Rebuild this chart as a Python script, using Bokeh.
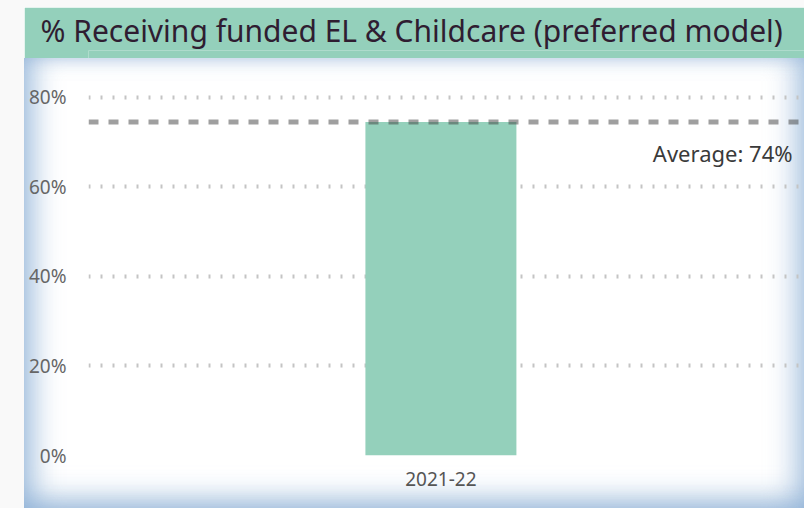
from bokeh.plotting import figure
from bokeh.models import Range1d, FixedTicker, NumeralTickFormatter, Span, Spacer, ColumnDataSource, Title
from bokeh.layouts import row, column
from bokeh.core.properties import value
from bokeh.embed import file_html
from bokeh.resources import INLINE

# ---- data ----
title_text = "% Receiving funded EL & Childcare (preferred model)"
categories = ["2021-22"]
values = [0.745]
y_ticks = [0.0, 0.2, 0.4, 0.6, 0.8]
average = sum(values) / len(values)
avg_label = "Average: {:.0f}%".format(average * 100)

FONT = "Noto Sans"
BAR = "#94D0BB"
PAGE = "#f9f9f9"

# ---- title bar ----
t = figure(width=780, height=51, x_range=Range1d(0, 1), y_range=Range1d(0, 1),
           x_axis_type=None, y_axis_type=None, toolbar_location=None,
           output_backend="svg", min_border=0)
t.outline_line_color = None
t.background_fill_color = BAR
t.border_fill_color = BAR
t.grid.visible = False
t.title = Title(text=title_text, align="left", offset=-48, text_font=FONT,
                text_font_size="30px", text_font_style="normal",
                text_color="#2f1d31", standoff=0)

# ---- main chart ----
xs = list(range(len(categories)))
src = ColumnDataSource(dict(x=xs, top=values, cat=categories))
x_start, x_end = -2.334, 2.408
shadow = ("inset 20px 0 28px -10px rgba(135,172,212,0.7), "
          "inset -20px 0 28px -10px rgba(135,172,212,0.6), "
          "inset 0 -20px 28px -10px rgba(135,172,212,0.65), "
          "inset 0 8px 14px -8px rgba(135,172,212,0.3)")
p = figure(width=780, height=450, x_range=Range1d(x_start, x_end),
           y_range=Range1d(0, 0.887), toolbar_location=None, output_backend="svg",
           min_border_left=64, min_border_right=0, min_border_top=0, min_border_bottom=53,
           styles={"background-color": "white", "box-shadow": shadow})
p.border_fill_color = None
p.background_fill_color = None
p.outline_line_color = None

p.vbar(x="x", top="top", width=1.0, bottom=0, source=src, color=BAR, line_color=None)

avg = Span(location=average, dimension="width", line_color="#404040", line_alpha=0.5,
           line_width=5, line_dash="10 10")
p.add_layout(avg)
p.text(x=[x_end], y=[average], text=[avg_label], x_offset=-12, y_offset=31,
       text_align="right", text_baseline="middle", text_font=value(FONT),
       text_font_size="22px", text_color="#3a3a3a")

p.xgrid.visible = False
p.ygrid.ticker = FixedTicker(ticks=y_ticks)
p.ygrid.grid_line_color = "#c4c4c4"
p.ygrid.grid_line_width = 4
p.ygrid.grid_line_dash = "2 10"

p.yaxis.ticker = FixedTicker(ticks=y_ticks)
p.yaxis.formatter = NumeralTickFormatter(format="0%")
p.yaxis.axis_line_color = None
p.yaxis.major_tick_line_color = None
p.yaxis.minor_tick_line_color = None
p.yaxis.major_label_standoff = 16
p.yaxis.major_label_text_font = FONT
p.yaxis.major_label_text_font_size = "19px"
p.yaxis.major_label_text_color = "#666666"

p.xaxis.ticker = FixedTicker(ticks=xs)
p.xaxis.major_label_overrides = {x: c for x, c in zip(xs, categories)}
p.xaxis.axis_line_color = None
p.xaxis.major_tick_line_color = None
p.xaxis.minor_tick_line_color = None
p.xaxis.major_label_standoff = 10
p.xaxis.major_label_text_font = FONT
p.xaxis.major_label_text_font_size = "19px"
p.xaxis.major_label_text_color = "#555555"

left = Spacer(width=24, height=508, styles={"background-color": PAGE})
top = Spacer(width=780, height=7, styles={"background-color": PAGE})
layout = row(left, column(top, t, p, spacing=0), spacing=0)

open("out.html", "w").write(file_html(layout, INLINE))
